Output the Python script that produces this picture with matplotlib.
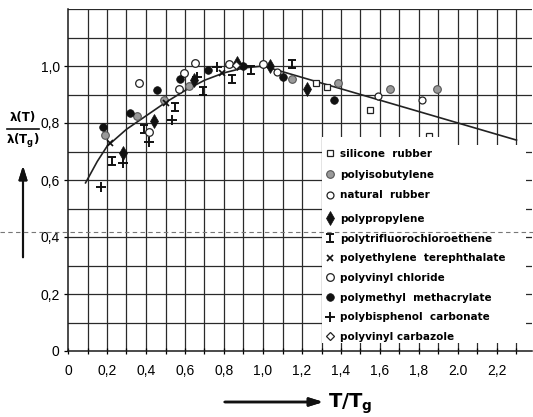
import matplotlib
matplotlib.use("Agg")
import matplotlib.pyplot as plt
from matplotlib.path import Path
from matplotlib.lines import Line2D
from matplotlib.patches import Rectangle

# ---------------- data ----------------
CURVE_X = [0.09, 0.15, 0.20, 0.30, 0.40, 0.50, 0.60, 0.70, 0.80, 0.90, 1.00, 2.30]
CURVE_Y = [0.59, 0.665, 0.718, 0.778, 0.825, 0.872, 0.914, 0.950, 0.976, 0.993, 1.00, 0.74]

silicone_x = [1.27, 1.33, 1.55, 1.85, 2.22]
silicone_y = [0.94, 0.925, 0.845, 0.755, 0.71]
pib_x = [0.19, 0.355, 0.49, 0.62, 1.15, 1.385, 1.65, 1.89]
pib_y = [0.758, 0.825, 0.88, 0.93, 0.955, 0.94, 0.92, 0.918]
nr_x = [1.07, 1.59, 1.815]
nr_y = [0.98, 0.895, 0.88]
pp_x = [0.28, 0.44, 0.645, 0.865, 1.035, 1.225]
pp_y = [0.695, 0.807, 0.95, 1.01, 1.0, 0.918]
ptfce_x = [0.227, 0.39, 0.548, 0.69, 0.84, 0.94, 1.15]
ptfce_y = [0.665, 0.779, 0.857, 0.912, 0.954, 0.986, 1.008]
pet_x = [0.215, 0.50, 0.79, 0.88]
pet_y = [0.73, 0.87, 0.975, 1.0]
pvc_x = [0.365, 0.415, 0.57, 0.594, 0.65, 0.826, 1.0]
pvc_y = [0.94, 0.77, 0.918, 0.975, 1.01, 1.007, 1.007]
pmma_x = [0.18, 0.32, 0.456, 0.575, 0.72, 0.90, 1.10, 1.364]
pmma_y = [0.785, 0.835, 0.915, 0.954, 0.986, 1.0, 0.96, 0.88]
pbc_x = [0.17, 0.283, 0.415, 0.532, 0.66, 0.765]
pbc_y = [0.575, 0.66, 0.733, 0.81, 0.96, 0.997]
pvcz_x = [0.86]
pvcz_y = [1.005]

X_TICKS = [0, 0.2, 0.4, 0.6, 0.8, 1.0, 1.2, 1.4, 1.6, 1.8, 2.0, 2.2]
X_LABELS = ["0", "0,2", "0,4", "0,6", "0,8", "1,0", "1,2", "1,4", "1,6", "1,8", "2.0", "2,2"]
Y_TICKS = [0, 0.2, 0.4, 0.6, 0.8, 1.0]
Y_LABELS = ["0", "0,2", "0,4", "0,6", "0,8", "1,0"]

# ---------------- figure ----------------
W, H = 533, 417
fig = plt.figure(figsize=(W / 100, H / 100), dpi=100)
XMAX = 2.38
ax = fig.add_axes([68 / W, (H - 351) / H, XMAX * 195 / W, 1.2 * 285 / H])
ax.set_xlim(0, XMAX)
ax.set_ylim(0, 1.2)

tick_font = dict(family="Liberation Sans", size=10)

# grid
grid_kw = dict(color="#2a2a2a", lw=0.9, zorder=1)
for i in range(1, 24):
    ax.axvline(i / 10, ymin=0, ymax=1, **grid_kw)
for j in range(1, 13):
    ax.axhline(j / 10, **grid_kw)

for s in ["top", "right"]:
    ax.spines[s].set_visible(False)
for s in ["left", "bottom"]:
    ax.spines[s].set_linewidth(1.1)
    ax.spines[s].set_color("#1a1a1a")

ax.set_xticks(X_TICKS)
ax.set_xticklabels(X_LABELS, **tick_font)
ax.set_xticks([i / 10 for i in range(1, 24, 2)], minor=True)
ax.set_yticks(Y_TICKS)
ax.set_yticklabels(Y_LABELS, **tick_font)
ax.tick_params(axis="x", which="both", direction="inout", length=5, width=0.9, pad=7)
ax.tick_params(axis="y", which="both", direction="out", length=3, width=0.9, pad=3)

# curve
ax.plot(CURVE_X, CURVE_Y, color="#222222", lw=1.2, zorder=3)

# I-beam marker
ibeam = Path([(-1, 1), (1, 1), (0, 1), (0, -1), (-1, -1), (1, -1)],
             [Path.MOVETO, Path.LINETO, Path.MOVETO, Path.LINETO, Path.MOVETO, Path.LINETO])

series = [
    (silicone_x, silicone_y, "silicone  rubber", dict(marker="s", ms=5, mfc="white", mec="#222", mew=0.9)),
    (pib_x, pib_y, "polyisobutylene", dict(marker="o", ms=5.5, mfc="#9a9a9a", mec="#555", mew=0.8)),
    (nr_x, nr_y, "natural  rubber", dict(marker="o", ms=5, mfc="white", mec="#222", mew=0.9)),
    (pp_x, pp_y, "polypropylene", dict(marker="d", ms=7, mfc="#111", mec="#111", mew=0.5)),
    (ptfce_x, ptfce_y, "polytrifluorochloroethene", dict(marker=ibeam, ms=5.5, mfc="none", mec="#111", mew=1.4)),
    (pet_x, pet_y, "polyethylene  terephthalate", dict(marker="x", ms=4.5, mfc="none", mec="#111", mew=1.2)),
    (pvc_x, pvc_y, "polyvinyl chloride", dict(marker="o", ms=5.5, mfc="white", mec="#222", mew=0.9)),
    (pmma_x, pmma_y, "polymethyl  methacrylate", dict(marker="o", ms=5.5, mfc="#111", mec="#111", mew=0.5)),
    (pbc_x, pbc_y, "polybisphenol  carbonate", dict(marker="+", ms=6.5, mfc="none", mec="#111", mew=1.4)),
    (pvcz_x, pvcz_y, "polyvinyl carbazole", dict(marker="D", ms=4.5, mfc="white", mec="#222", mew=0.9)),
]

handles = []
for xs, ys, lab, st in series:
    h, = ax.plot(xs, ys, ls="none", label=lab, zorder=4, **st)
    handles.append(h)

# legend box (white area covering grid)
ax.add_patch(Rectangle((1.30, 0.028), 1.05, 0.695, facecolor="white", edgecolor="none", zorder=5))
ax.add_patch(Rectangle((1.30, 0.70), 0.69, 0.05, facecolor="white", edgecolor="none", zorder=5))

leg_kw = dict(loc="upper left", bbox_transform=fig.transFigure,
              frameon=False, borderpad=0, borderaxespad=0,
              handlelength=0.8, handletextpad=0.55,
              prop=dict(family="DejaVu Sans", weight="bold", size=7.5))
leg1 = fig.legend(handles=handles[:3], bbox_to_anchor=(326 / W, (H - 149) / H),
                  labelspacing=1.02, **leg_kw)
leg1.set_zorder(6)
leg2 = fig.legend(handles=handles[3:], bbox_to_anchor=(326 / W, (H - 214) / H),
                  labelspacing=0.93, **leg_kw)
leg2.set_zorder(6)

# fold / dashed line
fig.add_artist(Line2D([0, 1], [(H - 232) / H] * 2, transform=fig.transFigure,
                      color="#777", lw=0.8, ls=(0, (4, 3)), zorder=10))

# y label
lab_kw = dict(ha="center", va="center", fontsize=8.5, fontweight="bold",
              family="DejaVu Sans")
fig.text(23 / W, (H - 118) / H, "λ(T)", **lab_kw)
fig.text(23 / W, (H - 141) / H, r"λ(T$_\mathbf{g}$)", **lab_kw)
fig.add_artist(Line2D([7 / W, 39 / W], [(H - 129) / H] * 2, transform=fig.transFigure,
                      color="#111", lw=1.2))
fig.add_artist(plt.annotate("", xy=(23 / W, (H - 163) / H), xytext=(23 / W, (H - 260) / H),
                            xycoords="figure fraction", textcoords="figure fraction",
                            arrowprops=dict(arrowstyle="-|>,head_length=0.8,head_width=0.25",
                                            color="#111", lw=1.5)))

# x label
fig.add_artist(plt.annotate("", xy=(326 / W, (H - 402) / H), xytext=(222 / W, (H - 402) / H),
                            xycoords="figure fraction", textcoords="figure fraction",
                            arrowprops=dict(arrowstyle="-|>,head_length=0.8,head_width=0.25",
                                            color="#111", lw=1.8)))
fig.text(328 / W, (H - 404) / H, r"T/T$_\mathbf{g}$", ha="left", va="center",
         fontsize=14, fontweight="bold", family="DejaVu Sans")

fig.savefig("out.png", dpi=100)
